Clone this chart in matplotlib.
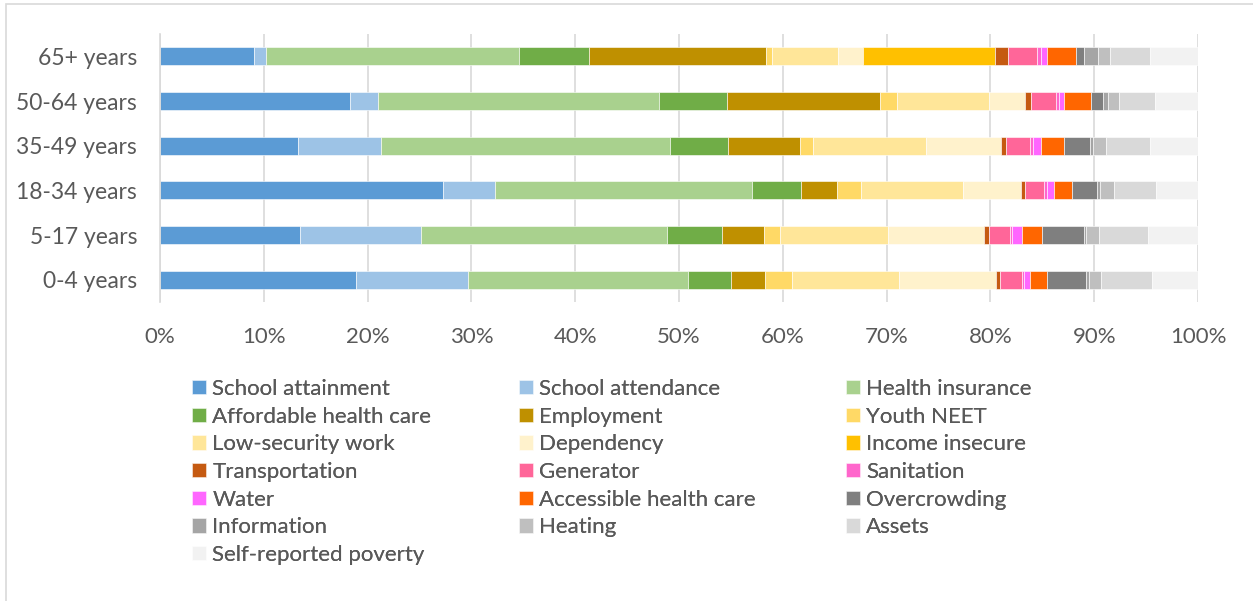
import matplotlib
matplotlib.use("Agg")
import matplotlib.pyplot as plt
from matplotlib.patches import Rectangle
import numpy as np

plt.rcParams['font.family'] = ['Lato', 'DejaVu Sans']

age_groups = ['0-4 years', '5-17 years', '18-34 years', '35-49 years', '50-64 years', '65+ years']

indicators = ['School attainment', 'School attendance', 'Health insurance',
              'Affordable health care', 'Employment', 'Youth NEET',
              'Low-security work', 'Dependency', 'Income insecure',
              'Transportation', 'Generator', 'Sanitation',
              'Water', 'Accessible health care', 'Overcrowding',
              'Information', 'Heating', 'Assets',
              'Self-reported poverty']

# share of each indicator (%), ordered as age_groups
school_attainment = [18.9, 13.5, 27.3, 13.3, 18.3, 9.1]
school_attendance = [10.8, 11.6, 5.0, 8.0, 2.7, 1.1]
health_insurance = [21.2, 23.7, 24.7, 27.8, 27.1, 24.4]
affordable_care = [4.1, 5.3, 4.8, 5.6, 6.5, 6.7]
employment = [3.3, 4.1, 3.4, 7.0, 14.8, 17.1]
youth_neet = [2.6, 1.5, 2.3, 1.2, 1.6, 0.6]
low_security = [10.3, 10.4, 9.9, 10.9, 8.9, 6.3]
dependency = [9.3, 9.3, 5.5, 7.2, 3.4, 2.4]
income_insecure = [0, 0, 0, 0, 0, 12.7]
transportation = [0.4, 0.5, 0.4, 0.5, 0.6, 1.3]
generator = [2.1, 2.0, 1.9, 2.3, 2.4, 2.8]
sanitation = [0.2, 0.2, 0.3, 0.3, 0.3, 0.4]
water = [0.6, 0.9, 0.6, 0.8, 0.5, 0.6]
accessible_care = [1.7, 2.0, 1.8, 2.2, 2.6, 2.7]
overcrowding = [3.7, 4.0, 2.4, 2.5, 1.1, 0.8]
information = [0.3, 0.2, 0.3, 0.3, 0.5, 1.4]
heating = [1.2, 1.3, 1.3, 1.2, 1.1, 1.1]
assets = [4.9, 4.7, 4.1, 4.3, 3.5, 3.9]
self_reported = [4.4, 4.8, 4.0, 4.6, 4.1, 4.6]

series = [school_attainment, school_attendance, health_insurance,
          affordable_care, employment, youth_neet,
          low_security, dependency, income_insecure,
          transportation, generator, sanitation,
          water, accessible_care, overcrowding,
          information, heating, assets, self_reported]

colors = ['#5B9BD5', '#9DC3E6', '#A9D18E',
          '#70AD47', '#BF9000', '#FFD966',
          '#FFE699', '#FFF2CC', '#FFC000',
          '#C55A11', '#FF6699', '#FF66CC',
          '#FF66FF', '#FF6600', '#7F7F7F',
          '#A5A5A5', '#BFBFBF', '#D9D9D9',
          '#F2F2F2']

W, H = 1253, 601
fig = plt.figure(figsize=(W / 100, H / 100), dpi=100)

# chart area border
fig.patches.append(Rectangle((6 / W, -0.05), 1.1, 1.05 - 4 / H,
                             transform=fig.transFigure, fill=False,
                             edgecolor='#D9D9D9', linewidth=1.2))

ax = fig.add_axes([160 / W, 1 - 302 / H, (1198 - 160) / W, (302 - 34) / H])

y = np.arange(len(age_groups))
left = np.zeros(len(age_groups))
bars = []
for vals, name, col in zip(series, indicators, colors):
    vals = np.array(vals) / 100
    b = ax.barh(y, vals, left=left, height=0.4, color=col,
                edgecolor='white', linewidth=0.4, label=name, zorder=3)
    bars.append(b)
    left += vals

ax.set_xlim(0, 1)
ax.set_ylim(-0.5, 5.5)
ticks = np.arange(0, 1.01, 0.1)
ax.set_xticks(ticks)
ax.set_xticklabels([f'{int(round(t * 100))}%' for t in ticks])
ax.set_yticks(y)
ax.set_yticklabels(age_groups)
ax.tick_params(axis='both', length=0, colors='#595959', labelsize=16)
ax.tick_params(axis='y', labelsize=16.5)
ax.tick_params(axis='x', pad=18)
ax.tick_params(axis='y', pad=16.5)
ax.xaxis.grid(True, color='#D9D9D9', linewidth=1.2, zorder=0)
for s in ['top', 'right', 'bottom']:
    ax.spines[s].set_visible(False)
ax.spines['left'].set_color('#D9D9D9')
ax.spines['left'].set_linewidth(1.2)
ax.spines['left'].set_zorder(4)

# legend laid out in three equal columns
col_x = [192, 519, 846]
fs = 16
fs_px = fs * 100 / 72
for c in range(3):
    hs = bars[c::3]
    labels = indicators[c::3]
    leg = fig.legend(hs, labels, loc='upper left',
                     bbox_to_anchor=(col_x[c] / W, 1 - 379 / H),
                     frameon=False, fontsize=fs, labelcolor='#595959',
                     handlelength=13.5 / fs_px, handleheight=13.5 / fs_px,
                     handletextpad=0.3, labelspacing=0.345,
                     borderpad=0, borderaxespad=0)
    fig.add_artist(leg)

fig.savefig('out.png', dpi=100)
